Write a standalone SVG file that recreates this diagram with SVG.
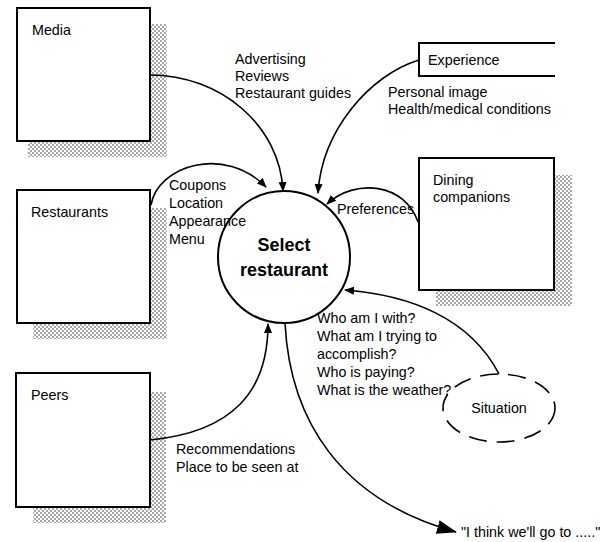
<svg xmlns="http://www.w3.org/2000/svg" width="600" height="542" viewBox="0 0 600 542">
<defs>
<pattern id="dots" width="4" height="4" patternUnits="userSpaceOnUse">
<rect x="0" y="0" width="2" height="2" fill="#a8a8a8"/>
<rect x="2" y="2" width="2" height="2" fill="#a8a8a8"/>
</pattern>
<marker id="arr" markerWidth="10" markerHeight="10" refX="9" refY="5" orient="auto" markerUnits="userSpaceOnUse">
<path d="M0,1 L10,5 L0,9 Z" fill="#000"/>
</marker>
<marker id="arrBig" markerWidth="20" markerHeight="16" refX="19" refY="8" orient="auto" markerUnits="userSpaceOnUse">
<path d="M0,1 L20,8 L0,15 Z" fill="#000"/>
</marker>
</defs>
<style>
.box{fill:#fff;stroke:#000;stroke-width:2}
.shadow{fill:url(#dots);stroke:none}
.t{font-family:"Liberation Sans",Arial,sans-serif;font-size:14.3px;fill:#000}
.big{font-family:"Liberation Sans",Arial,sans-serif;font-size:18px;font-weight:bold;fill:#000;text-anchor:middle}
.c{fill:none;stroke:#000;stroke-width:1.6}
</style>
<rect width="600" height="542" fill="#fff"/>

<g id="media">
<rect class="shadow" x="28" y="24" width="139" height="133"/>
<rect class="box" x="17" y="8" width="133" height="133"/>
<text class="t" x="32" y="35">Media</text>
</g>

<g id="restaurants">
<rect class="shadow" x="33" y="208" width="134" height="131"/>
<rect class="box" x="17" y="190" width="133" height="133"/>
<text class="t" x="31" y="217">Restaurants</text>
</g>

<g id="peers">
<rect class="shadow" x="33" y="392" width="133" height="131"/>
<rect class="box" x="16" y="373" width="134" height="134"/>
<text class="t" x="31" y="400">Peers</text>
</g>

<g id="experience">
<path d="M555,43 L419,43 L419,76 L555,76" fill="#fff" stroke="#000" stroke-width="2"/>
<text class="t" x="428" y="65">Experience</text>
</g>

<g id="dining">
<rect class="shadow" x="436" y="175" width="136" height="131"/>
<rect class="box" x="419" y="158" width="135" height="132"/>
<text class="t" x="433" y="185">Dining</text>
<text class="t" x="433" y="202">companions</text>
</g>

<g id="select">
<circle cx="284" cy="257" r="66" fill="#fff" stroke="#000" stroke-width="2"/>
<text class="big" x="284" y="251">Select</text>
<text class="big" x="284" y="276">restaurant</text>
</g>

<g id="situation">
<ellipse cx="499" cy="408" rx="56" ry="34" fill="none" stroke="#000" stroke-width="1.6" stroke-dasharray="18 10"/>
<text class="t" x="499" y="413" text-anchor="middle">Situation</text>
</g>

<g id="connectors">
<path class="c" d="M150,75 C220,75 280,125 283,191" marker-end="url(#arr)"/>
<path class="c" d="M151,205 C158,165 225,145 266,187" marker-end="url(#arr)"/>
<path class="c" d="M419,60 C370,75 322,130 318,193" marker-end="url(#arr)"/>
<path class="c" d="M418,222 C405,183 355,178 327,204" marker-end="url(#arr)"/>
<path class="c" d="M150,440 C232,432 268,392 268,324" marker-end="url(#arr)"/>
<path class="c" d="M499,374 C470,318 410,295 345,290" marker-end="url(#arr)"/>
<path class="c" d="M285,323 C290,420 340,500 456,532" marker-end="url(#arrBig)"/>
</g>

<g id="labels">
<text class="t" x="235" y="64">Advertising</text>
<text class="t" x="235" y="81">Reviews</text>
<text class="t" x="235" y="98">Restaurant guides</text>
<text class="t" x="388" y="97">Personal image</text>
<text class="t" x="388" y="114">Health/medical conditions</text>
<text class="t" x="169" y="190">Coupons</text>
<text class="t" x="169" y="208">Location</text>
<text class="t" x="169" y="226">Appearance</text>
<text class="t" x="169" y="244">Menu</text>
<text class="t" x="337" y="214">Preferences</text>
<text class="t" x="317" y="323">Who am I with?</text>
<text class="t" x="317" y="341">What am I trying to</text>
<text class="t" x="317" y="359">accomplish?</text>
<text class="t" x="317" y="377">Who is paying?</text>
<text class="t" x="317" y="395">What is the weather?</text>
<text class="t" x="176" y="454">Recommendations</text>
<text class="t" x="176" y="472">Place to be seen at</text>
<text class="t" x="461" y="537">"I think we'll go to ....."</text>
</g>
</svg>
